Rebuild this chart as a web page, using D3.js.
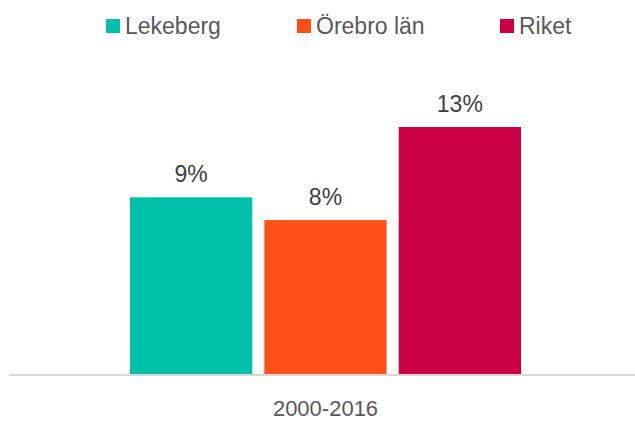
<!DOCTYPE html>
<html>
<head>
<meta charset="utf-8">
<script src="https://cdn.jsdelivr.net/npm/d3@7"></script>
<style>
  body { margin: 0; background: #fff; }
  svg { display: block; font-family: "Liberation Sans", Arial, sans-serif; }
</style>
</head>
<body>
<div id="chart-container"></div>
<script>
// chart data
const categories = ["2000-2016"];
const seriesNames = ["Lekeberg", "Örebro län", "Riket"];
const seriesValues = [0.093, 0.081, 0.130];
const seriesColors = ["#00c0a9", "#fd5017", "#cc0044"];

const width = 635;
const height = 421;
const baseline = 374;
const plotTop = 108;

const x0 = d3.scaleBand()
    .domain(categories)
    .range([9, 642])
    .paddingOuter(0.3095);

const x1 = d3.scaleBand()
    .domain(seriesNames)
    .range([0, x0.bandwidth()])
    .paddingInner(0.09)
    .paddingOuter(0);

const y = d3.scaleLinear()
    .domain([0, 0.14])
    .range([baseline, plotTop]);

const fmt = d3.format(".0%");

const svg = d3.select("#chart-container").append("svg")
    .attr("width", width)
    .attr("height", height)
    .attr("viewBox", [0, 0, width, height]);

const rows = seriesNames.map((name, i) => ({name: name, value: seriesValues[i], color: seriesColors[i]}));

// bars
const group = svg.append("g")
    .attr("transform", `translate(${x0(categories[0])},0)`);

group.selectAll("rect")
    .data(rows)
    .enter().append("rect")
    .attr("x", d => x1(d.name))
    .attr("y", d => y(d.value))
    .attr("width", x1.bandwidth())
    .attr("height", d => y(0) - y(d.value))
    .attr("fill", d => d.color);

// value labels
group.selectAll("text.val")
    .data(rows)
    .enter().append("text")
    .attr("class", "val")
    .attr("x", d => x1(d.name) + x1.bandwidth() / 2)
    .attr("y", d => y(d.value) - 15)
    .attr("text-anchor", "middle")
    .attr("font-size", 23)
    .attr("fill", "#404040")
    .text(d => fmt(d.value));

// axis line + category label
svg.append("line")
    .attr("x1", 9)
    .attr("x2", width)
    .attr("y1", baseline + 1)
    .attr("y2", baseline + 1)
    .attr("stroke", "#d9d9d9")
    .attr("stroke-width", 2);

svg.selectAll("text.cat")
    .data(categories)
    .enter().append("text")
    .attr("class", "cat")
    .attr("x", d => x0(d) + x0.bandwidth() / 2)
    .attr("y", 416)
    .attr("text-anchor", "middle")
    .attr("font-size", 22)
    .attr("fill", "#595959")
    .text(d => d);

// legend
const legendX = [106, 297, 500];
const legend = svg.selectAll("g.legend")
    .data(rows)
    .enter().append("g")
    .attr("class", "legend")
    .attr("transform", (d, i) => `translate(${legendX[i]},19)`);

legend.append("rect")
    .attr("width", 14)
    .attr("height", 14)
    .attr("fill", d => d.color);

legend.append("text")
    .attr("x", 19)
    .attr("y", 15)
    .attr("font-size", 23)
    .attr("fill", "#595959")
    .text(d => d.name);
</script>
</body>
</html>
